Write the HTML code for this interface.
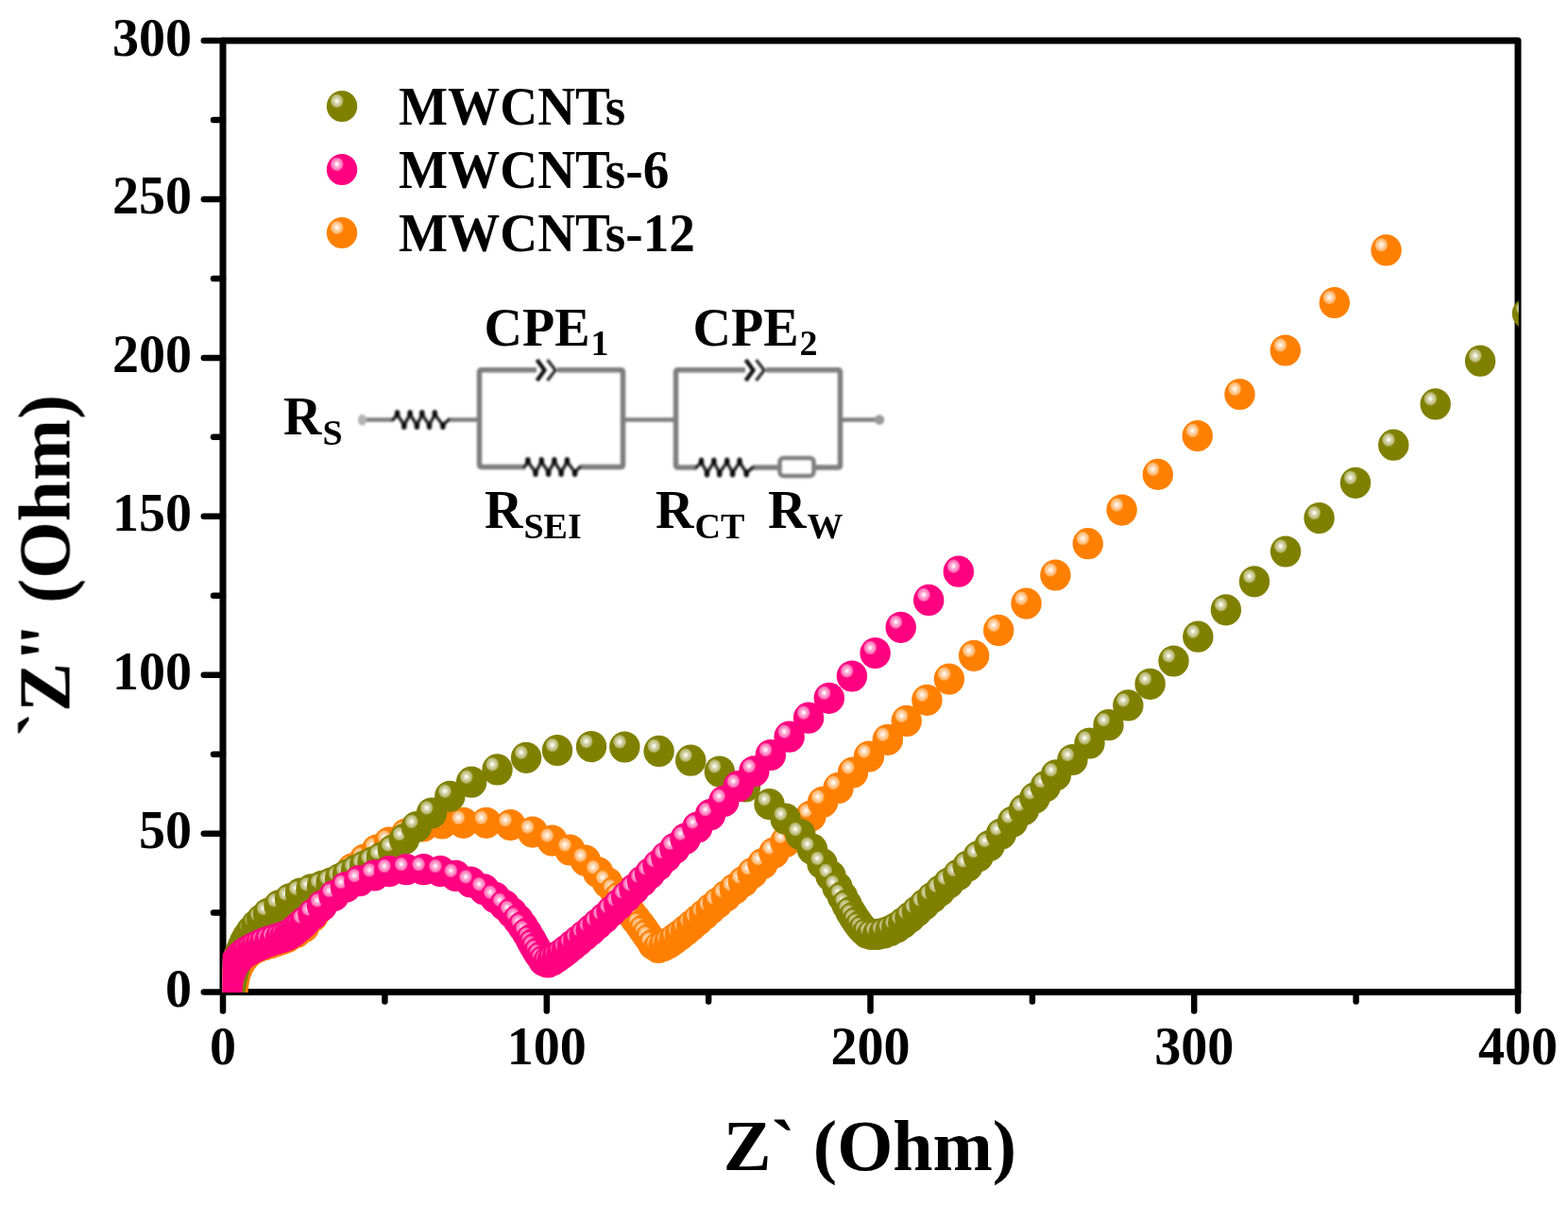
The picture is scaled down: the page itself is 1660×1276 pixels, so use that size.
<!DOCTYPE html>
<html><head><meta charset="utf-8"><title>Nyquist plot</title>
<style>html,body{margin:0;padding:0;background:#fff;overflow:hidden}svg{display:block}
text{font-family:"Liberation Serif","Times New Roman",serif;font-weight:bold;fill:#000}</style></head>
<body>
<svg width="1660" height="1276" viewBox="0 0 1660 1276">
<defs><radialGradient id="go"><stop offset="0" stop-color="#fff" stop-opacity="1"/><stop offset="0.2" stop-color="#fff" stop-opacity="0.88"/><stop offset="0.45" stop-color="#fff" stop-opacity="0.64"/><stop offset="0.75" stop-color="#fff" stop-opacity="0.48"/><stop offset="0.9" stop-color="#fff" stop-opacity="0.25"/><stop offset="1" stop-color="#fff" stop-opacity="0"/></radialGradient><g id="o"><ellipse rx="16.2" ry="16.6" fill="#808000"/><ellipse cx="-5.3" cy="-5.6" rx="7.3" ry="7.7" fill="url(#go)"/></g><radialGradient id="gp"><stop offset="0" stop-color="#fff" stop-opacity="1"/><stop offset="0.2" stop-color="#fff" stop-opacity="0.88"/><stop offset="0.45" stop-color="#fff" stop-opacity="0.64"/><stop offset="0.75" stop-color="#fff" stop-opacity="0.48"/><stop offset="0.9" stop-color="#fff" stop-opacity="0.25"/><stop offset="1" stop-color="#fff" stop-opacity="0"/></radialGradient><g id="p"><ellipse rx="16.2" ry="16.6" fill="#ff0080"/><ellipse cx="-5.3" cy="-5.6" rx="7.3" ry="7.7" fill="url(#gp)"/></g><radialGradient id="gr"><stop offset="0" stop-color="#fff" stop-opacity="1"/><stop offset="0.2" stop-color="#fff" stop-opacity="0.88"/><stop offset="0.45" stop-color="#fff" stop-opacity="0.64"/><stop offset="0.75" stop-color="#fff" stop-opacity="0.48"/><stop offset="0.9" stop-color="#fff" stop-opacity="0.25"/><stop offset="1" stop-color="#fff" stop-opacity="0"/></radialGradient><g id="r"><ellipse rx="16.2" ry="16.6" fill="#ff8000"/><ellipse cx="-5.3" cy="-5.6" rx="7.3" ry="7.7" fill="url(#gr)"/></g>
<filter id="bl" x="-5%" y="-20%" width="110%" height="140%"><feGaussianBlur stdDeviation="0.8"/></filter>
<filter id="soft" filterUnits="userSpaceOnUse" x="0" y="0" width="1660" height="1276"><feGaussianBlur stdDeviation="0.55"/></filter>
<clipPath id="pc"><rect x="235.8" y="43" width="1372" height="1008"/></clipPath>
</defs>
<rect width="1660" height="1276" fill="#fff"/>
<g filter="url(#soft)">
<g stroke="#000" stroke-width="6.5" stroke-linecap="round"><line x1="236.0" y1="1050.6" x2="215.8" y2="1050.6"/><line x1="236.0" y1="966.6" x2="226.0" y2="966.6"/><line x1="236.0" y1="882.7" x2="215.8" y2="882.7"/><line x1="236.0" y1="798.7" x2="226.0" y2="798.7"/><line x1="236.0" y1="714.7" x2="215.8" y2="714.7"/><line x1="236.0" y1="630.8" x2="226.0" y2="630.8"/><line x1="236.0" y1="546.8" x2="215.8" y2="546.8"/><line x1="236.0" y1="462.8" x2="226.0" y2="462.8"/><line x1="236.0" y1="378.9" x2="215.8" y2="378.9"/><line x1="236.0" y1="294.9" x2="226.0" y2="294.9"/><line x1="236.0" y1="210.9" x2="215.8" y2="210.9"/><line x1="236.0" y1="127.0" x2="226.0" y2="127.0"/><line x1="236.0" y1="43.0" x2="215.8" y2="43.0"/><line x1="236.0" y1="1050.6" x2="236.0" y2="1070.5"/><line x1="407.4" y1="1050.6" x2="407.4" y2="1060.5"/><line x1="578.8" y1="1050.6" x2="578.8" y2="1070.5"/><line x1="750.1" y1="1050.6" x2="750.1" y2="1060.5"/><line x1="921.5" y1="1050.6" x2="921.5" y2="1070.5"/><line x1="1092.9" y1="1050.6" x2="1092.9" y2="1060.5"/><line x1="1264.2" y1="1050.6" x2="1264.2" y2="1070.5"/><line x1="1435.6" y1="1050.6" x2="1435.6" y2="1060.5"/><line x1="1607.0" y1="1050.6" x2="1607.0" y2="1070.5"/></g>
<path d="M236.0,43.0 H1607.0 V1050.6 H236.0 Z" fill="none" stroke="#000" stroke-width="7" stroke-linejoin="round"/>
<g clip-path="url(#pc)">
<g><use href="#r" x="246.0" y="1066.0"/><use href="#r" x="246.1" y="1060.3"/><use href="#r" x="246.2" y="1054.7"/><use href="#r" x="246.5" y="1049.0"/><use href="#r" x="247.2" y="1042.9"/><use href="#r" x="248.1" y="1036.9"/><use href="#r" x="249.5" y="1031.0"/><use href="#r" x="251.5" y="1025.6"/><use href="#r" x="254.0" y="1020.4"/><use href="#r" x="257.0" y="1015.5"/><use href="#r" x="260.2" y="1011.6"/><use href="#r" x="263.9" y="1008.0"/><use href="#r" x="268.0" y="1005.0"/><use href="#r" x="273.7" y="1002.4"/><use href="#r" x="280.0" y="1000.5"/><use href="#r" x="285.9" y="998.7"/><use href="#r" x="292.0" y="996.8"/><use href="#r" x="297.9" y="994.8"/><use href="#r" x="304.0" y="992.5"/><use href="#r" x="313.5" y="987.5"/><use href="#r" x="322.0" y="981.5"/><use href="#r" x="331.0" y="970.5"/><use href="#r" x="335.9" y="963.4"/><use href="#r" x="341.0" y="956.0"/><use href="#r" x="346.4" y="949.5"/><use href="#r" x="352.0" y="943.0"/><use href="#r" x="362.0" y="930.5"/><use href="#r" x="373.0" y="920.0"/><use href="#r" x="386.0" y="910.0"/><use href="#r" x="399.0" y="900.0"/><use href="#r" x="412.0" y="892.0"/><use href="#r" x="430.0" y="883.0"/><use href="#r" x="448.0" y="875.0"/><use href="#r" x="468.0" y="872.0"/><use href="#r" x="490.5" y="871.3"/><use href="#r" x="514.8" y="871.3"/><use href="#r" x="540.3" y="873.6"/><use href="#r" x="563.8" y="881.1"/><use href="#r" x="584.5" y="890.1"/><use href="#r" x="603.3" y="900.0"/><use href="#r" x="619.8" y="911.2"/><use href="#r" x="633.1" y="923.8"/><use href="#r" x="643.0" y="934.5"/><use href="#r" x="651.0" y="944.0"/><use href="#r" x="655.7" y="950.1"/><use href="#r" x="660.0" y="956.0"/><use href="#r" x="664.1" y="961.7"/><use href="#r" x="668.0" y="967.0"/><use href="#r" x="673.1" y="973.6"/><use href="#r" x="678.0" y="980.0"/><use href="#r" x="681.4" y="984.8"/><use href="#r" x="684.7" y="989.5"/><use href="#r" x="688.0" y="994.0"/><use href="#r" x="691.5" y="1000.1"/><use href="#r" x="697.0" y="1003.5"/><use href="#r" x="702.7" y="1001.6"/><use href="#r" x="708.3" y="998.4"/><use href="#r" x="714.0" y="994.4"/><use href="#r" x="720.0" y="990.0"/><use href="#r" x="726.1" y="985.2"/><use href="#r" x="732.3" y="979.9"/><use href="#r" x="738.8" y="974.4"/><use href="#r" x="745.6" y="968.5"/><use href="#r" x="752.6" y="962.3"/><use href="#r" x="760.0" y="956.0"/><use href="#r" x="768.7" y="948.7"/><use href="#r" x="777.7" y="941.3"/><use href="#r" x="787.0" y="933.5"/><use href="#r" x="796.5" y="924.5"/><use href="#r" x="807.5" y="914.5"/><use href="#r" x="819.5" y="903.0"/><use href="#r" x="831.5" y="891.5"/><use href="#r" x="844.5" y="878.0"/><use href="#r" x="858.5" y="864.0"/><use href="#r" x="871.1" y="849.3"/><use href="#r" x="887.5" y="834.4"/><use href="#r" x="903.0" y="818.0"/><use href="#r" x="920.0" y="801.0"/><use href="#r" x="939.8" y="783.3"/><use href="#r" x="959.7" y="763.4"/><use href="#r" x="981.4" y="741.3"/><use href="#r" x="1004.9" y="719.1"/><use href="#r" x="1031.1" y="694.3"/><use href="#r" x="1057.2" y="667.4"/><use href="#r" x="1086.5" y="639.1"/><use href="#r" x="1117.4" y="609.0"/><use href="#r" x="1151.7" y="575.7"/><use href="#r" x="1187.6" y="540.1"/><use href="#r" x="1225.8" y="502.4"/><use href="#r" x="1267.7" y="461.5"/><use href="#r" x="1312.5" y="417.5"/><use href="#r" x="1360.8" y="371.0"/><use href="#r" x="1412.8" y="320.5"/><use href="#r" x="1467.6" y="264.9"/></g>
<g><use href="#o" x="243.0" y="1066.0"/><use href="#o" x="243.1" y="1060.7"/><use href="#o" x="243.2" y="1055.3"/><use href="#o" x="243.5" y="1050.0"/><use href="#o" x="244.1" y="1045.0"/><use href="#o" x="245.0" y="1040.0"/><use href="#o" x="246.0" y="1035.0"/><use href="#o" x="247.2" y="1030.0"/><use href="#o" x="248.5" y="1025.0"/><use href="#o" x="250.0" y="1020.0"/><use href="#o" x="251.5" y="1015.6"/><use href="#o" x="253.2" y="1011.3"/><use href="#o" x="255.0" y="1007.0"/><use href="#o" x="257.1" y="1002.1"/><use href="#o" x="259.3" y="997.0"/><use href="#o" x="262.0" y="992.0"/><use href="#o" x="266.3" y="985.8"/><use href="#o" x="271.5" y="979.5"/><use href="#o" x="277.2" y="973.6"/><use href="#o" x="284.0" y="967.3"/><use href="#o" x="295.5" y="958.8"/><use href="#o" x="307.0" y="951.8"/><use href="#o" x="318.0" y="946.1"/><use href="#o" x="329.5" y="941.9"/><use href="#o" x="341.0" y="938.4"/><use href="#o" x="350.5" y="935.0"/><use href="#o" x="360.0" y="930.5"/><use href="#o" x="368.0" y="926.0"/><use href="#o" x="377.0" y="921.6"/><use href="#o" x="386.0" y="917.0"/><use href="#o" x="394.5" y="913.0"/><use href="#o" x="404.0" y="908.0"/><use href="#o" x="416.0" y="900.0"/><use href="#o" x="428.0" y="888.5"/><use href="#o" x="441.0" y="875.5"/><use href="#o" x="457.0" y="861.0"/><use href="#o" x="476.3" y="843.3"/><use href="#o" x="499.1" y="828.2"/><use href="#o" x="526.5" y="814.9"/><use href="#o" x="557.1" y="802.3"/><use href="#o" x="590.0" y="794.5"/><use href="#o" x="626.0" y="790.6"/><use href="#o" x="661.3" y="791.0"/><use href="#o" x="697.6" y="795.4"/><use href="#o" x="731.2" y="805.2"/><use href="#o" x="761.8" y="817.0"/><use href="#o" x="789.0" y="833.0"/><use href="#o" x="814.5" y="851.6"/><use href="#o" x="831.7" y="867.2"/><use href="#o" x="847.3" y="883.6"/><use href="#o" x="859.9" y="899.2"/><use href="#o" x="870.5" y="914.5"/><use href="#o" x="879.5" y="927.5"/><use href="#o" x="886.5" y="939.5"/><use href="#o" x="892.0" y="949.5"/><use href="#o" x="896.5" y="958.0"/><use href="#o" x="900.5" y="965.5"/><use href="#o" x="903.8" y="971.0"/><use href="#o" x="907.1" y="976.1"/><use href="#o" x="910.5" y="980.5"/><use href="#o" x="914.0" y="984.5"/><use href="#o" x="917.9" y="988.1"/><use href="#o" x="923.0" y="989.5"/><use href="#o" x="929.2" y="989.3"/><use href="#o" x="935.8" y="988.0"/><use href="#o" x="942.6" y="985.6"/><use href="#o" x="949.4" y="982.0"/><use href="#o" x="956.3" y="977.2"/><use href="#o" x="963.4" y="971.4"/><use href="#o" x="970.8" y="965.0"/><use href="#o" x="978.6" y="957.9"/><use href="#o" x="987.0" y="950.5"/><use href="#o" x="995.4" y="943.2"/><use href="#o" x="1004.5" y="935.1"/><use href="#o" x="1014.3" y="926.4"/><use href="#o" x="1024.6" y="917.0"/><use href="#o" x="1035.7" y="906.8"/><use href="#o" x="1047.6" y="895.5"/><use href="#o" x="1060.0" y="883.0"/><use href="#o" x="1072.2" y="870.1"/><use href="#o" x="1084.0" y="857.4"/><use href="#o" x="1095.5" y="844.9"/><use href="#o" x="1106.8" y="832.7"/><use href="#o" x="1117.9" y="820.8"/><use href="#o" x="1135.4" y="804.5"/><use href="#o" x="1153.5" y="787.0"/><use href="#o" x="1173.5" y="767.7"/><use href="#o" x="1194.3" y="746.9"/><use href="#o" x="1217.6" y="724.3"/><use href="#o" x="1242.5" y="700.0"/><use href="#o" x="1268.3" y="674.2"/><use href="#o" x="1297.9" y="645.8"/><use href="#o" x="1328.0" y="615.8"/><use href="#o" x="1361.1" y="584.0"/><use href="#o" x="1396.6" y="548.6"/><use href="#o" x="1435.0" y="511.3"/><use href="#o" x="1475.3" y="471.2"/><use href="#o" x="1519.7" y="427.9"/><use href="#o" x="1567.1" y="382.2"/><use href="#o" x="1617.0" y="332.0"/></g>
<g><use href="#p" x="240.0" y="1066.0"/><use href="#p" x="240.0" y="1060.7"/><use href="#p" x="240.0" y="1055.3"/><use href="#p" x="240.2" y="1050.0"/><use href="#p" x="240.6" y="1045.3"/><use href="#p" x="241.1" y="1040.6"/><use href="#p" x="242.0" y="1036.0"/><use href="#p" x="243.7" y="1030.4"/><use href="#p" x="246.0" y="1025.0"/><use href="#p" x="248.9" y="1019.8"/><use href="#p" x="252.5" y="1015.0"/><use href="#p" x="255.5" y="1012.0"/><use href="#p" x="258.9" y="1009.3"/><use href="#p" x="262.5" y="1007.0"/><use href="#p" x="266.8" y="1004.6"/><use href="#p" x="271.1" y="1002.5"/><use href="#p" x="275.5" y="1000.4"/><use href="#p" x="280.0" y="998.5"/><use href="#p" x="285.4" y="996.6"/><use href="#p" x="291.1" y="994.8"/><use href="#p" x="297.0" y="993.0"/><use href="#p" x="301.5" y="991.5"/><use href="#p" x="306.0" y="989.5"/><use href="#p" x="310.0" y="986.8"/><use href="#p" x="314.0" y="983.6"/><use href="#p" x="318.2" y="980.1"/><use href="#p" x="322.8" y="976.0"/><use href="#p" x="331.4" y="968.0"/><use href="#p" x="341.0" y="959.0"/><use href="#p" x="353.5" y="948.5"/><use href="#p" x="366.0" y="939.5"/><use href="#p" x="380.4" y="932.7"/><use href="#p" x="396.3" y="926.9"/><use href="#p" x="412.2" y="922.6"/><use href="#p" x="430.1" y="920.7"/><use href="#p" x="448.4" y="920.7"/><use href="#p" x="466.2" y="922.6"/><use href="#p" x="482.6" y="927.4"/><use href="#p" x="498.3" y="934.0"/><use href="#p" x="512.4" y="941.8"/><use href="#p" x="524.2" y="950.4"/><use href="#p" x="534.0" y="958.5"/><use href="#p" x="542.0" y="966.5"/><use href="#p" x="548.5" y="974.0"/><use href="#p" x="553.5" y="981.0"/><use href="#p" x="558.0" y="988.0"/><use href="#p" x="562.0" y="995.0"/><use href="#p" x="564.5" y="999.6"/><use href="#p" x="567.0" y="1004.0"/><use href="#p" x="569.9" y="1008.7"/><use href="#p" x="573.0" y="1013.0"/><use href="#p" x="575.6" y="1017.3"/><use href="#p" x="580.0" y="1019.0"/><use href="#p" x="585.0" y="1016.8"/><use href="#p" x="589.9" y="1013.6"/><use href="#p" x="594.9" y="1010.0"/><use href="#p" x="600.0" y="1006.0"/><use href="#p" x="606.0" y="1001.2"/><use href="#p" x="612.3" y="996.0"/><use href="#p" x="618.8" y="990.5"/><use href="#p" x="625.7" y="984.7"/><use href="#p" x="632.7" y="978.5"/><use href="#p" x="640.0" y="972.0"/><use href="#p" x="647.4" y="965.1"/><use href="#p" x="655.1" y="957.7"/><use href="#p" x="663.1" y="949.8"/><use href="#p" x="671.4" y="941.6"/><use href="#p" x="680.0" y="933.0"/><use href="#p" x="688.1" y="924.9"/><use href="#p" x="696.5" y="916.4"/><use href="#p" x="705.2" y="907.5"/><use href="#p" x="714.3" y="898.4"/><use href="#p" x="725.5" y="888.2"/><use href="#p" x="738.4" y="876.0"/><use href="#p" x="752.0" y="862.7"/><use href="#p" x="766.3" y="848.4"/><use href="#p" x="781.6" y="832.7"/><use href="#p" x="798.3" y="816.8"/><use href="#p" x="815.8" y="799.5"/><use href="#p" x="835.6" y="780.2"/><use href="#p" x="856.0" y="760.2"/><use href="#p" x="877.8" y="739.3"/><use href="#p" x="901.9" y="716.0"/><use href="#p" x="926.6" y="691.5"/><use href="#p" x="953.7" y="664.3"/><use href="#p" x="983.2" y="635.4"/><use href="#p" x="1014.8" y="605.2"/></g>
</g>
<g font-size="56" text-anchor="end"><text x="203" y="1066.1">0</text><text x="203" y="898.2">50</text><text x="203" y="730.2">100</text><text x="203" y="562.3">150</text><text x="203" y="394.4">200</text><text x="203" y="226.4">250</text><text x="203" y="58.5">300</text></g>
<g font-size="56" text-anchor="middle"><text x="236.0" y="1127">0</text><text x="578.8" y="1127">100</text><text x="921.5" y="1127">200</text><text x="1264.2" y="1127">300</text><text x="1607.0" y="1127">400</text></g>
<text x="921" y="1239" font-size="76" text-anchor="middle">Z` (Ohm)</text>
<text transform="translate(73.5,598.8) rotate(-90)" font-size="78" text-anchor="middle">`Z&quot; (Ohm)</text>
<g>
<use href="#o" x="362" y="112.5"/><use href="#p" x="362" y="179.5"/><use href="#r" x="362" y="246.5"/>
</g>
<g font-size="56" transform="translate(422,0) scale(0.986,1)">
<text x="0" y="132.5">MWCNTs</text>
<text x="0" y="199.5">MWCNTs-6</text>
<text x="0" y="266.5">MWCNTs-12</text>
</g>
<g filter="url(#bl)">
<g fill="none" stroke="#7e7e7e" stroke-width="5.5" stroke-linecap="butt" stroke-linejoin="round">
<path d="M387,444.5 H416 M474,444.5 H507.5 M659.5,444.5 H715.5 M889.5,444.5 H927" stroke-width="4.5"/>
<path d="M568,391.8 H510 Q507.5,391.8 507.5,394.3 V491.8 Q507.5,494.5 510,494.5 H556 M614,494.5 H657 Q659.5,494.5 659.5,492 V394.3 Q659.5,391.8 657,391.8 H590"/>
<path d="M789,391.8 H718 Q715.5,391.8 715.5,394.3 V492 Q715.5,495 718,495 H738 M797,495 H826 M862,495 H887 Q889.5,495 889.5,492.5 V394.3 Q889.5,391.8 887,391.8 H811"/>
<rect x="825.5" y="485" width="36" height="19" rx="4" stroke-width="4.5"/>
</g>
<circle cx="931" cy="444.5" r="5.2" fill="#9a9a9a"/>
<ellipse cx="383.5" cy="444.8" rx="4.6" ry="6" fill="#b4b4b4"/>
<polyline points="416.0,444.5 420.6,439.0 427.8,450.0 434.1,439.0 441.4,450.0 446.8,439.0 454.5,450.0 460.3,439.0 468.9,450.0 475.0,444.5" fill="none" stroke="#2a2a2a" stroke-width="3.6" stroke-linejoin="round" stroke-linecap="round"/><g fill="#111"><ellipse cx="420.6" cy="438.0" rx="2.8" ry="4"/><ellipse cx="427.8" cy="451.0" rx="2.8" ry="4"/><ellipse cx="434.1" cy="438.0" rx="2.8" ry="4"/><ellipse cx="441.4" cy="451.0" rx="2.8" ry="4"/><ellipse cx="446.8" cy="438.0" rx="2.8" ry="4"/><ellipse cx="454.5" cy="451.0" rx="2.8" ry="4"/><ellipse cx="460.3" cy="438.0" rx="2.8" ry="4"/><ellipse cx="468.9" cy="451.0" rx="2.8" ry="4"/></g>
<polyline points="555.0,494.5 558.9,489.0 567.0,500.0 573.3,489.0 580.6,500.0 586.9,489.0 594.1,500.0 600.4,489.0 608.6,500.0 614.0,494.5" fill="none" stroke="#2a2a2a" stroke-width="3.6" stroke-linejoin="round" stroke-linecap="round"/><g fill="#111"><ellipse cx="558.9" cy="488.0" rx="2.8" ry="4"/><ellipse cx="567.0" cy="501.0" rx="2.8" ry="4"/><ellipse cx="573.3" cy="488.0" rx="2.8" ry="4"/><ellipse cx="580.6" cy="501.0" rx="2.8" ry="4"/><ellipse cx="586.9" cy="488.0" rx="2.8" ry="4"/><ellipse cx="594.1" cy="501.0" rx="2.8" ry="4"/><ellipse cx="600.4" cy="488.0" rx="2.8" ry="4"/><ellipse cx="608.6" cy="501.0" rx="2.8" ry="4"/></g>
<polyline points="737.0,495.0 742.5,489.5 748.5,500.5 755.8,489.5 761.7,500.5 769.7,489.5 775.6,500.5 783.0,489.5 790.2,500.5 797.0,495.0" fill="none" stroke="#2a2a2a" stroke-width="3.6" stroke-linejoin="round" stroke-linecap="round"/><g fill="#111"><ellipse cx="742.5" cy="488.5" rx="2.8" ry="4"/><ellipse cx="748.5" cy="501.5" rx="2.8" ry="4"/><ellipse cx="755.8" cy="488.5" rx="2.8" ry="4"/><ellipse cx="761.7" cy="501.5" rx="2.8" ry="4"/><ellipse cx="769.7" cy="488.5" rx="2.8" ry="4"/><ellipse cx="775.6" cy="501.5" rx="2.8" ry="4"/><ellipse cx="783.0" cy="488.5" rx="2.8" ry="4"/><ellipse cx="790.2" cy="501.5" rx="2.8" ry="4"/></g>
<path d="M568.5,381.0 l8,11 l-8,11" fill="none" stroke="#111" stroke-width="4.2"/><path d="M579.5,381.0 l8.5,11 l-8.5,11" fill="none" stroke="#333" stroke-width="3.4"/>
<path d="M789.5,381.0 l8,11 l-8,11" fill="none" stroke="#111" stroke-width="4.2"/><path d="M800.5,381.0 l8.5,11 l-8.5,11" fill="none" stroke="#333" stroke-width="3.4"/>
</g>
<g font-size="56">
<text x="300" y="460">R<tspan font-size="38" dy="11" dx="1">S</tspan></text>
<text x="512.5" y="365.5">CPE<tspan font-size="38" dy="10" dx="1">1</tspan></text>
<text x="733.5" y="365.5">CPE<tspan font-size="38" dy="10" dx="1">2</tspan></text>
<text x="513" y="558.5">R<tspan font-size="38" dy="11.5" dx="1">SEI</tspan></text>
<text x="694" y="558.5">R<tspan font-size="38" dy="11.5" dx="1">CT</tspan></text>
<text x="813" y="558.5">R<tspan font-size="38" dy="11.5" dx="1">W</tspan></text>
</g>
</g>
</svg>
</body></html>
